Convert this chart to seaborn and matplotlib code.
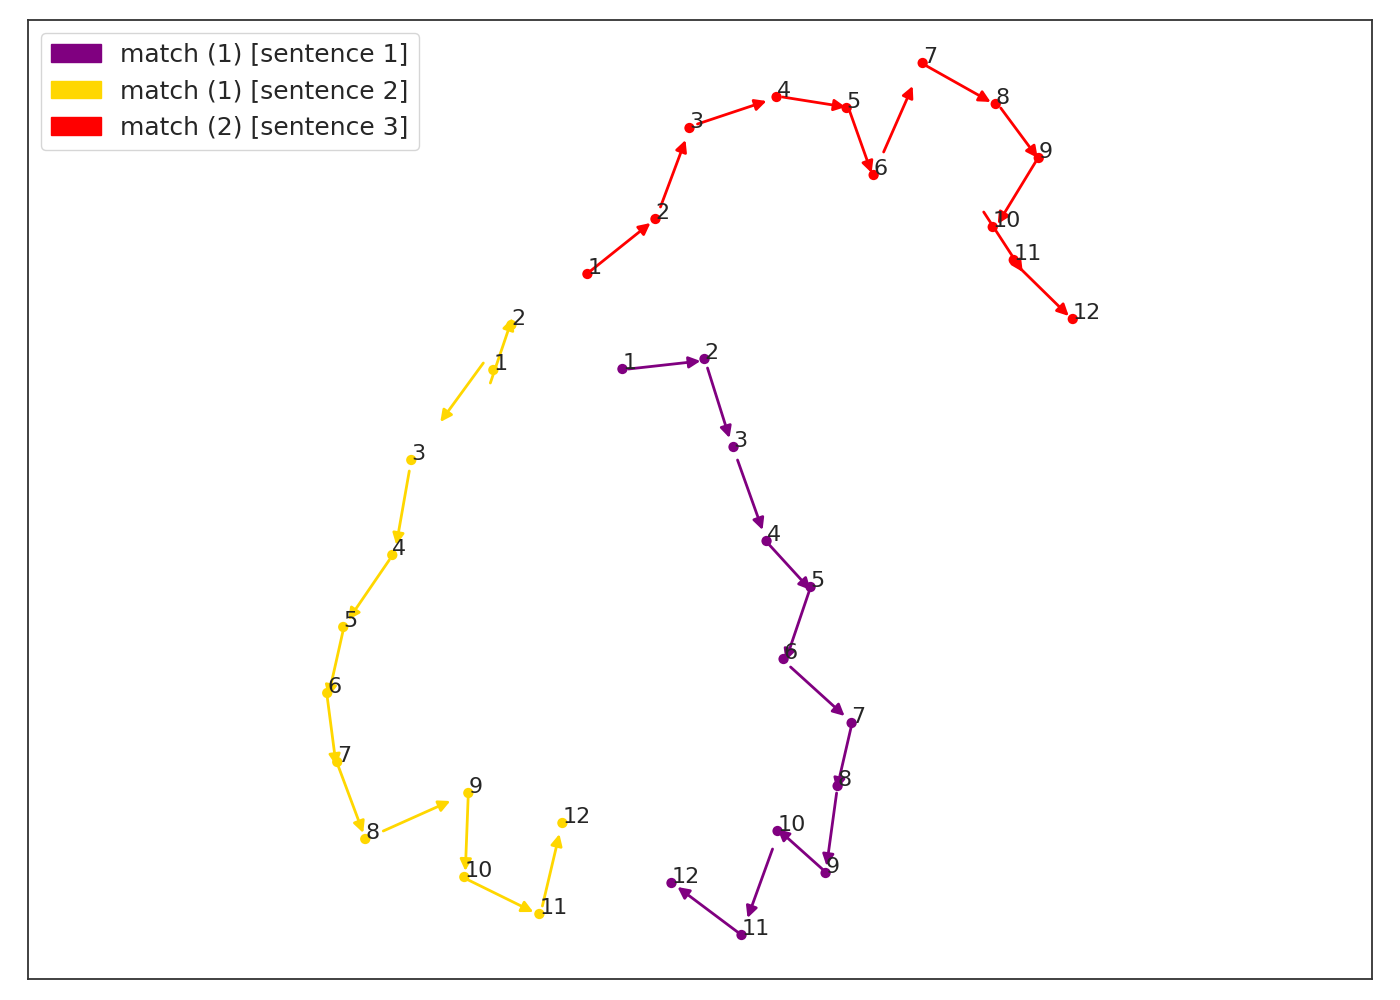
import seaborn as sns
import matplotlib.pyplot as plt
import pandas as pd
from matplotlib.patches import Patch

# point positions per sentence (x, y), numbered 1..12
s1_x = [622, 704, 733, 766, 810, 783, 851, 837, 825, 777, 741, 671]
s1_y = [631, 641, 553, 459, 413, 341, 277, 214, 127, 169, 65, 117]
s2_x = [493, 511, 411, 392, 343, 327, 337, 365, 468, 464, 539, 562]
s2_y = [630, 675, 540, 445, 373, 307, 238, 161, 207, 123, 86, 177]
s3_x = [587, 655, 689, 776, 846, 873, 922, 995, 1038, 992, 1013, 1072]
s3_y = [726, 781, 872, 903, 892, 825, 937, 896, 842, 773, 740, 681]

# arrows (tail x, tail y, head x, head y)
s1_arrows = [(628, 631, 700, 639), (707, 632, 729, 562), (737, 540, 762, 470),
             (768, 456, 810, 410), (809, 410, 785, 339), (790, 333, 844, 284),
             (851, 275, 836, 210), (836, 207, 826, 134), (825, 128, 777, 171),
             (772, 151, 747, 82), (737, 68, 677, 113)]
s2_arrows = [(490, 617, 512, 682), (483, 637, 440, 578), (409, 529, 396, 455),
             (389, 440, 348, 380), (343, 370, 328, 303), (327, 303, 336, 234),
             (338, 234, 363, 167), (383, 169, 450, 199), (468, 207, 465, 129),
             (466, 121, 533, 88), (542, 94, 559, 166)]
s3_arrows = [(590, 729, 650, 777), (660, 793, 685, 860), (697, 876, 766, 899),
             (782, 903, 845, 893), (849, 889, 871, 827), (883, 848, 912, 914),
             (926, 934, 990, 898), (1000, 892, 1037, 842), (1036, 840, 997, 776),
             (983, 788, 1022, 728), (1013, 738, 1068, 684)]

names = ["match (1) [sentence 1]", "match (1) [sentence 2]", "match (2) [sentence 3]"]
colors = ["purple", "gold", "red"]

rows = []
for name, xs, ys in zip(names, [s1_x, s2_x, s3_x], [s1_y, s2_y, s3_y]):
    for i, (x, y) in enumerate(zip(xs, ys)):
        rows.append({"x": x, "y": y, "group": name, "idx": i + 1})
df = pd.DataFrame(rows)

sns.set_style("white")
fig, ax = plt.subplots(figsize=(14, 10), dpi=100)
plt.subplots_adjust(left=0.02, right=0.98, top=0.98, bottom=0.021)

sns.scatterplot(data=df, x="x", y="y", hue="group", hue_order=names,
                palette=colors, s=55, linewidth=0, legend=False, ax=ax, zorder=3)

for arrows, c in zip([s1_arrows, s2_arrows, s3_arrows], colors):
    for x0, y0, x1, y1 in arrows:
        ax.annotate("", xy=(x1, y1), xytext=(x0, y0),
                    arrowprops=dict(arrowstyle="-|>", color=c, lw=2,
                                    mutation_scale=17, shrinkA=0, shrinkB=0))

for _, r in df.iterrows():
    ax.text(r["x"], r["y"], str(r["idx"]), fontsize=16, color="#262626")

ax.set_xlim(28, 1371)
ax.set_ylim(21, 980)
ax.set_xticks([])
ax.set_yticks([])
ax.set_xlabel("")
ax.set_ylabel("")
for sp in ax.spines.values():
    sp.set_linewidth(1.3)
    sp.set_color("#333333")

handles = [Patch(color=c, label=n) for c, n in zip(colors, names)]
ax.legend(handles=handles, loc="upper left", fontsize=18)

plt.savefig("out.png")
